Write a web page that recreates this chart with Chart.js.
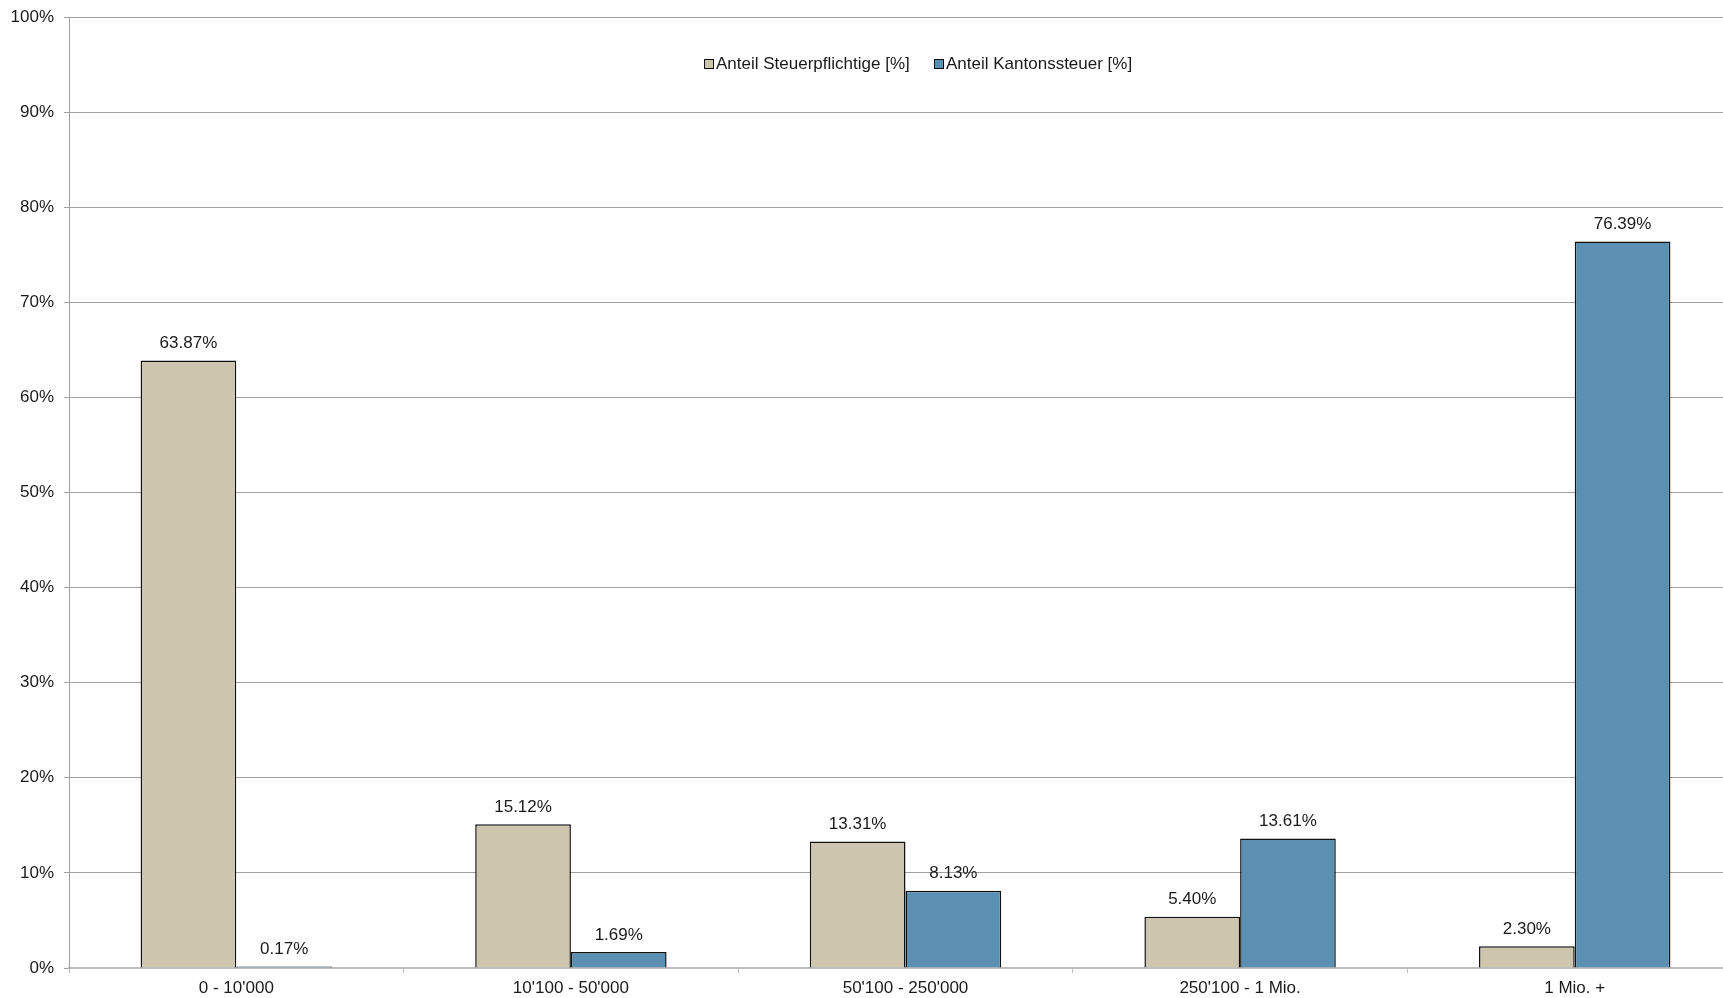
<!DOCTYPE html>
<html>
<head>
<meta charset="utf-8">
<script src="https://cdn.jsdelivr.net/npm/chart.js@4"></script>
<style>
  html, body { margin: 0; padding: 0; background: #fff; overflow: hidden; }
  #wrap { width: 1742px; height: 998px; }
</style>
</head>
<body>
<div id="wrap"><canvas id="chart" width="1742" height="998"></canvas></div>
<script>
// Data
const categories = ["0 - 10'000", "10'100 - 50'000", "50'100 - 250'000", "250'100 - 1 Mio.", "1 Mio. +"];
const steuerpflichtige = [63.87, 15.12, 13.31, 5.40, 2.30];
const kantonssteuer = [0.17, 1.69, 8.13, 13.61, 76.39];
const seriesNames = ['Anteil Steuerpflichtige [%]', 'Anteil Kantonssteuer [%]'];

const FONT = '"Liberation Sans", Arial, sans-serif';
const colors = { tan: '#cdc5ae', blue: '#5b90b3', border: '#111111' };

// value labels above bars
const valueLabels = {
    id: 'valueLabels',
    afterDatasetsDraw(chart) {
        const ctx = chart.ctx;
        ctx.save();
        ctx.font = '17px ' + FONT;
        ctx.fillStyle = '#1a1a1a';
        ctx.textAlign = 'center';
        ctx.textBaseline = 'middle';
        chart.data.datasets.forEach((ds, i) => {
            chart.getDatasetMeta(i).data.forEach((bar, j) => {
                ctx.fillText(ds.data[j].toFixed(2) + '%', bar.x, bar.y - 17);
            });
        });
        ctx.restore();
    }
};

// Excel-style legend inside the plot
const legendBox = {
    id: 'legendBox',
    afterDraw(chart) {
        const ctx = chart.ctx;
        ctx.save();
        ctx.font = '17px ' + FONT;
        ctx.textBaseline = 'middle';
        const y = 64;
        const items = [
            { x: 704, text: seriesNames[0], color: colors.tan },
            { x: 934, text: seriesNames[1], color: colors.blue }
        ];
        items.forEach(it => {
            ctx.fillStyle = it.color;
            ctx.fillRect(it.x, y - 5, 10, 10);
            ctx.strokeStyle = colors.border;
            ctx.lineWidth = 1;
            ctx.strokeRect(it.x + 0.5, y - 4.5, 9, 9);
            ctx.fillStyle = '#1a1a1a';
            ctx.fillText(it.text, it.x + 12, y);
        });
        ctx.restore();
    }
};

new Chart(document.getElementById('chart'), {
    type: 'bar',
    data: {
        labels: categories,
        datasets: [
            {
                label: seriesNames[0],
                data: steuerpflichtige,
                backgroundColor: colors.tan,
                borderColor: colors.border,
                borderWidth: 1.5,
                categoryPercentage: 0.572,
                barPercentage: 1.0
            },
            {
                label: seriesNames[1],
                data: kantonssteuer,
                backgroundColor: colors.blue,
                borderColor: colors.border,
                borderWidth: 1.5,
                categoryPercentage: 0.572,
                barPercentage: 1.0
            }
        ]
    },
    options: {
        responsive: false,
        animation: false,
        devicePixelRatio: 1,
        layout: { padding: { left: 0, top: 17, right: 0, bottom: 0 } },
        plugins: {
            legend: { display: false },
            tooltip: { enabled: false }
        },
        scales: {
            x: {
                offset: true,
                grid: { drawOnChartArea: false, drawTicks: true, tickLength: 5, color: '#bdbdbd', offset: true },
                border: { color: '#bdbdbd', width: 2 },
                ticks: { color: '#1a1a1a', font: { family: FONT, size: 17 }, padding: 5, maxRotation: 0 },
                afterFit(scale) { scale.height = 30; }
            },
            y: {
                min: 0,
                max: 100,
                ticks: {
                    stepSize: 10,
                    color: '#1a1a1a',
                    font: { family: FONT, size: 17 },
                    padding: 10,
                    callback: v => v + '%'
                },
                grid: { color: '#a0a0a0', tickLength: 5, lineWidth: 1 },
                border: { color: '#a0a0a0', width: 1 },
                afterFit(scale) {
                    scale.width = 69;
                    scale.paddingTop = 0;
                    scale.paddingBottom = 0;
                }
            }
        }
    },
    plugins: [valueLabels, legendBox]
});
</script>
</body>
</html>
